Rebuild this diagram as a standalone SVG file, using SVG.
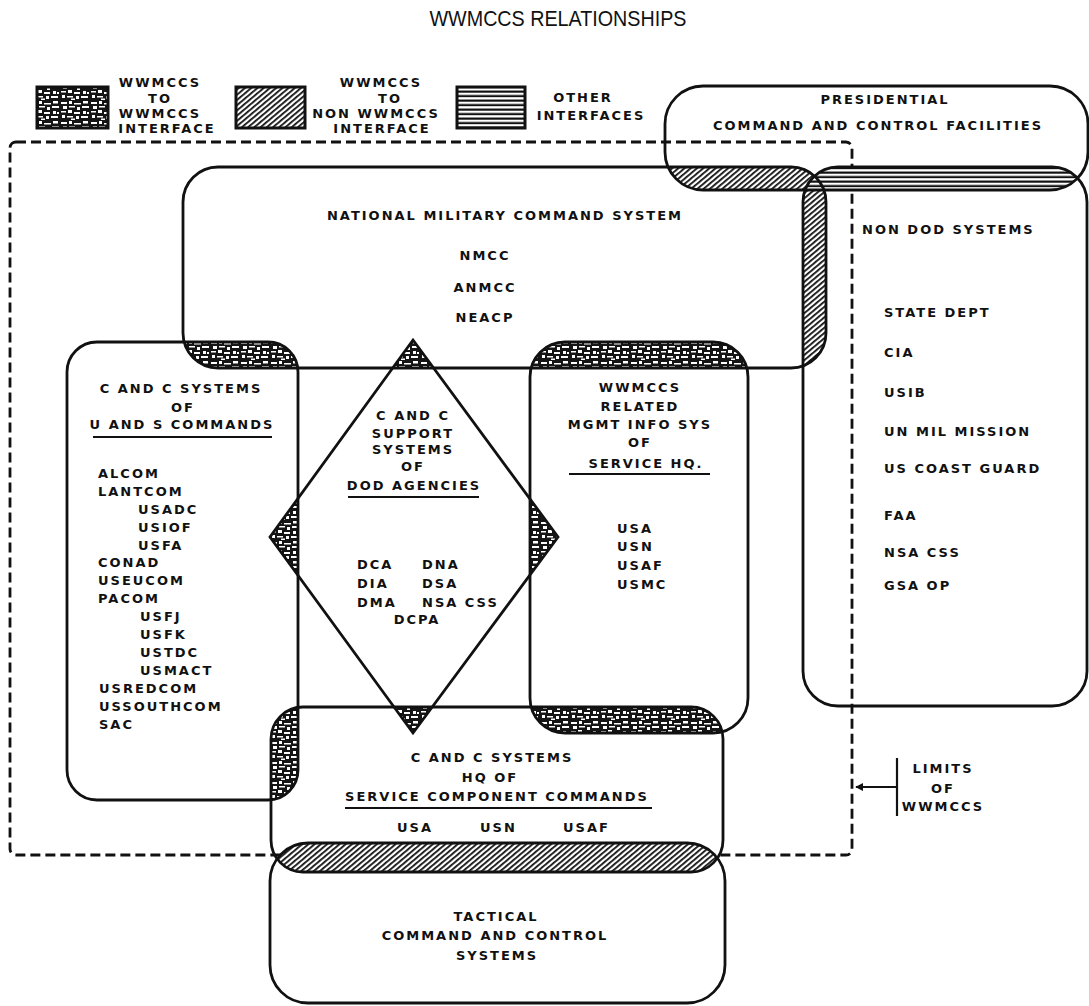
<svg xmlns="http://www.w3.org/2000/svg" width="1089" height="1006" viewBox="0 0 1089 1006">
<style>
.t{font-family:"DejaVu Sans","Liberation Sans",sans-serif;font-weight:bold;font-size:13px;letter-spacing:2px;fill:#111}
.m{text-anchor:middle}
.box{fill:none;stroke:#111;stroke-width:2.8}
.ul{stroke:#111;stroke-width:2}
.lim{fill:none;stroke:#111;stroke-width:2.8;stroke-dasharray:10 5}
.title{font-family:"Liberation Sans",Arial,sans-serif;font-size:22px;fill:#111;text-anchor:middle}
</style>
<defs>
<pattern id="spk" width="30" height="20" patternUnits="userSpaceOnUse">
<rect width="30" height="20" fill="#151515"/>
<path d="M1 2h6v2h-6zM9 1h3v3h-3zM14 3h7v1.5h-7zM23 1h5v2.5h-5zM3 6h4v3h-4zM9 6h6v1.5h-6zM17 7h3v3h-3zM22 6h7v2h-7zM1 11h5v1.5h-5zM8 10h4v3h-4zM14 12h6v2h-6zM23 11h3v3h-3zM27 12h2v2h-2zM2 15h3v3h-3zM7 16h6v1.5h-6zM16 16h3v3h-3zM21 16h7v2h-7zM11 18.5h4v1.5h-4z" fill="#fff"/>
</pattern>
<pattern id="hat" width="4" height="4" patternUnits="userSpaceOnUse" patternTransform="rotate(-40)">
<rect width="4" height="4" fill="#fff"/><rect width="4" height="1.8" fill="#111"/>
</pattern>
<pattern id="hln" width="6" height="4.5" patternUnits="userSpaceOnUse">
<rect width="6" height="4.5" fill="#fff"/><rect y="0.5" width="6" height="2.2" fill="#111"/>
</pattern>
<marker id="arr" viewBox="0 0 10 10" refX="9" refY="5" markerWidth="8" markerHeight="8" orient="auto-start-reverse" markerUnits="userSpaceOnUse">
<path d="M0 0L10 5L0 10z" fill="#111"/>
</marker>
<clipPath id="cPres"><rect x="665" y="86" width="423" height="104" rx="38"/></clipPath>
<clipPath id="cNmcs"><rect x="183" y="167" width="643" height="201" rx="35"/></clipPath>
<clipPath id="cNon"><rect x="803" y="167" width="284" height="539" rx="35"/></clipPath>
<clipPath id="cLeft"><rect x="67" y="342" width="231" height="458" rx="30"/></clipPath>
<clipPath id="cRight"><rect x="530" y="342" width="218" height="391" rx="35"/></clipPath>
<clipPath id="cServ"><rect x="271" y="707" width="452" height="165" rx="32"/></clipPath>
</defs>
<rect width="1089" height="1006" fill="#fff"/>

<text class="title" x="558" y="26" textLength="257" lengthAdjust="spacingAndGlyphs">WWMCCS RELATIONSHIPS</text>

<g id="legend">
<rect x="37" y="87" width="71" height="41" fill="url(#spk)" stroke="#111" stroke-width="3"/>
<text class="t m" x="160" y="87">WWMCCS</text>
<text class="t m" x="160" y="103">TO</text>
<text class="t m" x="160" y="118">WWMCCS</text>
<text class="t m" x="167" y="133">INTERFACE</text>
<rect x="236" y="87" width="69" height="41" fill="url(#hat)" stroke="#111" stroke-width="3"/>
<text class="t m" x="381" y="87">WWMCCS</text>
<text class="t m" x="390" y="103">TO</text>
<text class="t m" x="376" y="118">NON WWMCCS</text>
<text class="t m" x="382" y="133">INTERFACE</text>
<rect x="457" y="87" width="68" height="41" fill="url(#hln)" stroke="#111" stroke-width="3"/>
<text class="t m" x="583" y="102">OTHER</text>
<text class="t m" x="591" y="120">INTERFACES</text>
</g>

<g id="limits-boundary">
<rect class="lim" x="10" y="142" width="842" height="713" rx="6"/>
</g>

<g id="overlaps">
<rect x="183" y="167" width="643" height="201" rx="35" fill="url(#hat)" clip-path="url(#cPres)"/>
<rect x="803" y="167" width="284" height="539" rx="35" fill="url(#hat)" clip-path="url(#cNmcs)"/>
<rect x="665" y="86" width="423" height="104" rx="38" fill="url(#hln)" clip-path="url(#cNon)"/>
<rect x="67" y="342" width="231" height="458" rx="30" fill="url(#spk)" clip-path="url(#cNmcs)"/>
<rect x="530" y="342" width="218" height="391" rx="35" fill="url(#spk)" clip-path="url(#cNmcs)"/>
<polygon points="413,340 558,537 413,733 270,537" fill="url(#spk)" clip-path="url(#cNmcs)"/>
<polygon points="413,340 558,537 413,733 270,537" fill="url(#spk)" clip-path="url(#cLeft)"/>
<polygon points="413,340 558,537 413,733 270,537" fill="url(#spk)" clip-path="url(#cRight)"/>
<polygon points="413,340 558,537 413,733 270,537" fill="url(#spk)" clip-path="url(#cServ)"/>
<rect x="67" y="342" width="231" height="458" rx="30" fill="url(#spk)" clip-path="url(#cServ)"/>
<rect x="530" y="342" width="218" height="391" rx="35" fill="url(#spk)" clip-path="url(#cServ)"/>
<rect x="270" y="843" width="455" height="160" rx="38" fill="url(#hat)" clip-path="url(#cServ)"/>
</g>

<g id="presidential">
<rect class="box" x="665" y="86" width="423" height="104" rx="38"/>
<text class="t m" x="885" y="104">PRESIDENTIAL</text>
<text class="t m" x="878" y="130">COMMAND AND CONTROL FACILITIES</text>
</g>

<g id="nmcs">
<rect class="box" x="183" y="167" width="643" height="201" rx="35"/>
<text class="t m" x="505" y="220">NATIONAL MILITARY COMMAND SYSTEM</text>
<text class="t m" x="485" y="260">NMCC</text>
<text class="t m" x="485" y="292">ANMCC</text>
<text class="t m" x="485" y="322">NEACP</text>
</g>

<g id="non-dod">
<rect class="box" x="803" y="167" width="284" height="539" rx="35"/>
<text class="t" x="862" y="234">NON DOD SYSTEMS</text>
<text class="t" x="884" y="317">STATE DEPT</text>
<text class="t" x="884" y="357">CIA</text>
<text class="t" x="884" y="397">USIB</text>
<text class="t" x="884" y="436">UN MIL MISSION</text>
<text class="t" x="884" y="473">US COAST GUARD</text>
<text class="t" x="884" y="520">FAA</text>
<text class="t" x="884" y="557">NSA CSS</text>
<text class="t" x="884" y="590">GSA OP</text>
</g>

<g id="us-commands">
<rect class="box" x="67" y="342" width="231" height="458" rx="30"/>
<text class="t m" x="181" y="393">C AND C SYSTEMS</text>
<text class="t m" x="183" y="412">OF</text>
<text class="t m" x="182" y="429">U AND S COMMANDS</text>
<line class="ul" x1="93" y1="437" x2="272" y2="437"/>
<text class="t" x="98" y="478">ALCOM</text>
<text class="t" x="98" y="496">LANTCOM</text>
<text class="t" x="138" y="514">USADC</text>
<text class="t" x="138" y="532">USIOF</text>
<text class="t" x="138" y="550">USFA</text>
<text class="t" x="98" y="567">CONAD</text>
<text class="t" x="98" y="585">USEUCOM</text>
<text class="t" x="98" y="603">PACOM</text>
<text class="t" x="140" y="621">USFJ</text>
<text class="t" x="140" y="639">USFK</text>
<text class="t" x="140" y="657">USTDC</text>
<text class="t" x="140" y="675">USMACT</text>
<text class="t" x="99" y="693">USREDCOM</text>
<text class="t" x="99" y="711">USSOUTHCOM</text>
<text class="t" x="99" y="729">SAC</text>
</g>

<g id="dod-agencies">
<polygon class="box" points="413,340 558,537 413,733 270,537" stroke-width="2.2"/>
<text class="t m" x="413" y="420">C AND C</text>
<text class="t m" x="413" y="438">SUPPORT</text>
<text class="t m" x="413" y="454">SYSTEMS</text>
<text class="t m" x="413" y="471">OF</text>
<text class="t m" x="414" y="490">DOD AGENCIES</text>
<line class="ul" x1="348" y1="497" x2="479" y2="497"/>
<text class="t" x="357" y="569">DCA</text>
<text class="t" x="422" y="569">DNA</text>
<text class="t" x="357" y="588">DIA</text>
<text class="t" x="422" y="588">DSA</text>
<text class="t" x="357" y="607">DMA</text>
<text class="t" x="422" y="607">NSA CSS</text>
<text class="t m" x="417" y="624">DCPA</text>
</g>

<g id="service-hq">
<rect class="box" x="530" y="342" width="218" height="391" rx="35"/>
<text class="t m" x="640" y="392">WWMCCS</text>
<text class="t m" x="640" y="411">RELATED</text>
<text class="t m" x="640" y="429">MGMT INFO SYS</text>
<text class="t m" x="640" y="447">OF</text>
<text class="t m" x="646" y="468">SERVICE HQ.</text>
<line class="ul" x1="569" y1="474" x2="710" y2="474"/>
<text class="t" x="617" y="533">USA</text>
<text class="t" x="617" y="551">USN</text>
<text class="t" x="617" y="570">USAF</text>
<text class="t" x="617" y="589">USMC</text>
</g>

<g id="service-components">
<rect class="box" x="271" y="707" width="452" height="165" rx="32"/>
<text class="t m" x="492" y="762">C AND C SYSTEMS</text>
<text class="t m" x="490" y="782">HQ OF</text>
<text class="t m" x="497" y="801">SERVICE COMPONENT COMMANDS</text>
<line class="ul" x1="345" y1="808" x2="652" y2="808"/>
<text class="t" x="397" y="832">USA</text>
<text class="t" x="480" y="832">USN</text>
<text class="t" x="563" y="832">USAF</text>
</g>

<g id="tactical">
<rect class="box" x="270" y="843" width="455" height="160" rx="38"/>
<text class="t m" x="496" y="921">TACTICAL</text>
<text class="t m" x="495" y="940">COMMAND AND CONTROL</text>
<text class="t m" x="497" y="960">SYSTEMS</text>
</g>

<g id="connectors">
<line x1="897" y1="758" x2="897" y2="816" stroke="#111" stroke-width="2.2"/>
<line x1="897" y1="787" x2="856" y2="787" stroke="#111" stroke-width="2" marker-end="url(#arr)"/>
</g>

<g id="limits-label">
<text class="t m" x="943" y="773">LIMITS</text>
<text class="t m" x="943" y="793">OF</text>
<text class="t m" x="943" y="811">WWMCCS</text>
</g>
</svg>
